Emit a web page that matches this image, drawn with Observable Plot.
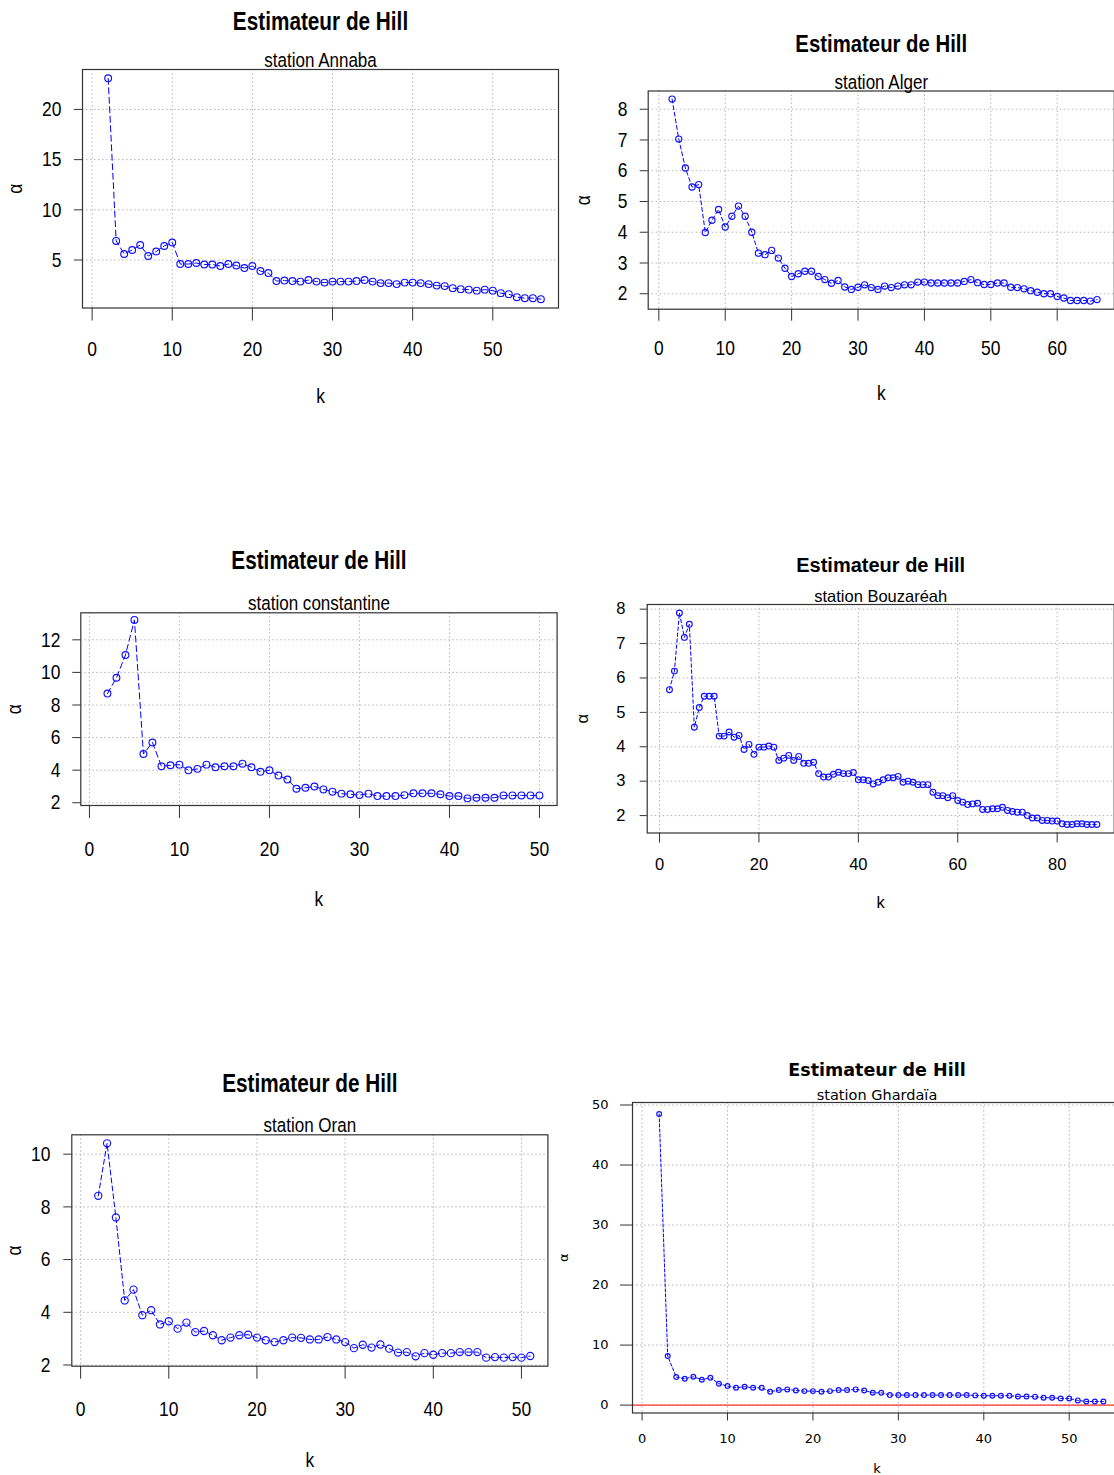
<!DOCTYPE html>
<html><head><meta charset="utf-8">
<script src="https://cdn.jsdelivr.net/npm/d3@7"></script>
<script src="https://cdn.jsdelivr.net/npm/@observablehq/plot@0.6"></script>
<style>
body{margin:0;background:#fff;overflow:hidden}
#root{position:relative;width:1114px;height:1475px;overflow:hidden;background:#fff}
#root svg{position:absolute}
</style></head><body><div id="root"></div>
<script>
// ---- Data: Hill estimator alpha for k = 2, 3, ... ----
const annabaValues = [23.1,6.9,5.6,6.0,6.5,5.4,5.85,6.4,6.75,4.6,4.6,4.7,4.55,4.55,4.4,4.6,4.45,4.2,4.4,3.9,3.7,2.9,2.95,2.9,2.85,3.0,2.85,2.75,2.85,2.85,2.85,2.9,3.0,2.85,2.7,2.7,2.6,2.75,2.75,2.7,2.6,2.45,2.4,2.2,2.1,2.05,1.95,2.05,1.95,1.7,1.6,1.3,1.2,1.2,1.1];
const algerValues = [8.33,7.03,6.09,5.47,5.55,3.99,4.39,4.74,4.17,4.52,4.85,4.52,4.0,3.32,3.27,3.41,3.16,2.83,2.56,2.65,2.73,2.73,2.56,2.46,2.34,2.43,2.22,2.14,2.21,2.29,2.2,2.14,2.25,2.2,2.25,2.29,2.29,2.38,2.38,2.35,2.35,2.35,2.35,2.35,2.4,2.46,2.36,2.3,2.3,2.35,2.35,2.21,2.2,2.16,2.1,2.05,2.0,2.0,1.91,1.86,1.78,1.78,1.78,1.76,1.81];
const constantineValues = [8.70,9.67,11.07,13.22,4.99,5.70,4.24,4.3,4.34,3.99,4.08,4.34,4.18,4.24,4.24,4.4,4.18,3.9,3.99,3.67,3.43,2.86,2.92,3.0,2.82,2.68,2.56,2.52,2.47,2.56,2.41,2.41,2.41,2.47,2.58,2.58,2.58,2.52,2.41,2.41,2.27,2.31,2.31,2.31,2.45,2.45,2.45,2.45,2.45];
const bouzareahValues = [5.66,6.20,7.89,7.18,7.56,4.57,5.14,5.47,5.47,5.47,4.31,4.31,4.43,4.28,4.33,3.92,4.07,3.78,3.99,3.99,4.02,3.99,3.60,3.67,3.75,3.60,3.72,3.52,3.52,3.55,3.22,3.12,3.12,3.2,3.26,3.22,3.22,3.25,3.04,3.04,3.02,2.92,2.97,3.04,3.1,3.1,3.14,2.97,3.0,2.97,2.9,2.9,2.9,2.68,2.58,2.58,2.52,2.58,2.44,2.39,2.32,2.34,2.36,2.18,2.18,2.2,2.2,2.24,2.15,2.12,2.1,2.1,2.0,1.93,1.93,1.86,1.86,1.84,1.84,1.76,1.74,1.74,1.76,1.76,1.74,1.74,1.74];
const oranValues = [8.42,10.41,7.6,4.45,4.86,3.89,4.08,3.54,3.66,3.38,3.61,3.25,3.29,3.13,2.94,3.04,3.13,3.15,3.04,2.94,2.87,2.94,3.04,3.03,2.97,2.97,3.06,2.97,2.87,2.64,2.77,2.66,2.78,2.62,2.47,2.49,2.33,2.45,2.39,2.45,2.45,2.49,2.49,2.49,2.28,2.3,2.28,2.3,2.28,2.34];
const ghardaiaValues = [48.5,8.17,4.67,4.39,4.72,4.22,4.56,3.56,3.17,2.89,3.06,2.89,2.89,2.22,2.5,2.61,2.44,2.33,2.33,2.22,2.33,2.5,2.5,2.61,2.44,2.05,2.05,1.67,1.67,1.67,1.67,1.67,1.67,1.67,1.67,1.67,1.67,1.62,1.56,1.56,1.56,1.56,1.44,1.44,1.4,1.22,1.22,1.1,1.1,0.78,0.6,0.6,0.6];

const stationNames = ["station Annaba","station Alger","station constantine","station Bouzaréah","station Oran","station Ghardaïa"];
const titleText = "Estimateur de Hill";
const xLabel = "k";
const yLabel = "α";

const xTicks50 = [0,10,20,30,40,50];
const xTicks60 = [0,10,20,30,40,50,60];
const xTicks80 = [0,20,40,60,80];
const yTicksAnnaba = [5,10,15,20];
const yTicksAlger = [2,3,4,5,6,7,8];
const yTicksConstantine = [2,4,6,8,10,12];
const yTicksBouzareah = [2,3,4,5,6,7,8];
const yTicksOran = [2,4,6,8,10];
const yTicksGhardaia = [0,10,20,30,40,50];

const SANS = "'Liberation Sans',Arial,sans-serif";
const DEJA = "'DejaVu Sans','Liberation Sans',sans-serif";

function rRange(lo, hi){ const e = (hi - lo) * 0.04; return [lo - e, hi + e]; }

const panels = [
  {values: annabaValues, name: stationNames[0], xTicks: xTicks50, yTicks: yTicksAnnaba,
   left: 0, top: 0, width: 565, height: 420, mL: 82, mT: 69, mR: 7, mB: 112.5,
   titleDy: -48, subDy: -9, kDy: 88.5, aDx: -67,
   xTS: 13, xPad: 20, yTS: 8, yPad: 13, squeeze: 0.83,
   font: SANS, titleFont: SANS, tickFont: 21, titleSize: 25, subSize: 20.5, labelSize: 21,
   dash: "6,3.5", r: 3.4},
  {values: algerValues, name: stationNames[1], xTicks: xTicks60, yTicks: yTicksAlger,
   left: 565, top: 0, width: 560, height: 420, mL: 82.7, mT: 90.5, mR: 11.2, mB: 111.3,
   titleDy: -46.5, subDy: -8.5, kDy: 84.3, aDx: -64.7,
   xTS: 12, xPad: 18.8, yTS: 8, yPad: 12.7, squeeze: 0.83,
   font: SANS, titleFont: SANS, tickFont: 21, titleSize: 24.5, subSize: 20.5, labelSize: 21,
   dash: "4,2.7", r: 3.1},
  {values: constantineValues, name: stationNames[2], xTicks: xTicks50, yTicks: yTicksConstantine,
   left: 0, top: 520, width: 565, height: 400, mL: 80.3, mT: 92.3, mR: 8.4, mB: 115,
   titleDy: -52.3, subDy: -9.3, kDy: 94, aDx: -66.3,
   xTS: 13, xPad: 22.5, yTS: 8, yPad: 12.3, squeeze: 0.83,
   font: SANS, titleFont: SANS, tickFont: 21, titleSize: 25, subSize: 20.5, labelSize: 21,
   dash: "6,3.5", r: 3.4},
  {values: bouzareahValues, name: stationNames[3], xTicks: xTicks80, yTicks: yTicksBouzareah,
   left: 565, top: 520, width: 560, height: 400, mL: 81.7, mT: 84, mR: 11.3, mB: 87.5,
   titleDy: -39, subDy: -8, kDy: 69.5, aDx: -64.7,
   xTS: 10, xPad: 15.5, yTS: 7, yPad: 14.7, squeeze: 1,
   font: SANS, titleFont: SANS, tickFont: 16.5, titleSize: 20, subSize: 16.5, labelSize: 16.5,
   dash: "3.5,2.5", r: 2.9},
  {values: oranValues, name: stationNames[4], xTicks: xTicks50, yTicks: yTicksOran,
   left: 0, top: 1040, width: 565, height: 435, mL: 71.3, mT: 94.3, mR: 17.6, mB: 109.3,
   titleDy: -51.3, subDy: -9.3, kDy: 94.3, aDx: -58,
   xTS: 13, xPad: 21.8, yTS: 8, yPad: 13.3, squeeze: 0.83,
   font: SANS, titleFont: SANS, tickFont: 21, titleSize: 25, subSize: 20.5, labelSize: 21,
   dash: "5,3", r: 3.6},
  {values: ghardaiaValues, name: stationNames[5], xTicks: xTicks50, yTicks: yTicksGhardaia,
   left: 565, top: 1040, width: 560, height: 435, mL: 67, mT: 62, mR: 4, mB: 62.5,
   titleDy: -32, subDy: -7, kDy: 55.5, aDx: -69,
   xTS: 8, xPad: 12.8, yTS: 12, yPad: 12, squeeze: 1,
   font: DEJA, titleFont: DEJA, tickFont: 13, titleSize: 17.5, subSize: 14.5, labelSize: 13,
   dash: "3,2", r: 2.4, zeroLine: true}
];

const root = document.getElementById("root");
const gridStyle = {stroke: "#b4b4b4", strokeOpacity: 1, strokeDasharray: "1.5,2.5", strokeWidth: 1};
const centered = {textAnchor: "middle", lineAnchor: "middle", fill: "black"};

for (const p of panels) {
  const data = p.values.map((v, i) => ({k: i + 2, v}));
  const kmax = data[data.length - 1].k;
  const marks = [
    Plot.gridX(p.xTicks, gridStyle),
    Plot.gridY(p.yTicks, gridStyle)
  ];
  if (p.zeroLine) marks.push(Plot.ruleY([0], {stroke: "#ff3030", strokeWidth: 1.2}));
  marks.push(
    Plot.line(data, {x: "k", y: "v", stroke: "#0000ff", strokeWidth: 1, strokeDasharray: p.dash}),
    Plot.dot(data, {x: "k", y: "v", r: p.r, stroke: "#1010ff", strokeWidth: 1.15, fill: "none"}),
    Plot.frame({stroke: "#333", strokeWidth: 1.2}),
    Plot.axisX(p.xTicks, {anchor: "bottom", tickSize: p.xTS, tickPadding: p.xPad, fontSize: p.tickFont, fontFamily: p.font, label: null, stroke: "#333"}),
    Plot.axisY(p.yTicks, {anchor: "left", tickSize: p.yTS, tickPadding: p.yPad, fontSize: p.tickFont, fontFamily: p.font, label: null, stroke: "#333"}),
    Plot.text([titleText], {...centered, text: d => d, frameAnchor: "top", dy: p.titleDy, fontWeight: "bold", fontSize: p.titleSize, fontFamily: p.titleFont}),
    Plot.text([p.name], {...centered, text: d => d, frameAnchor: "top", dy: p.subDy, fontSize: p.subSize, fontFamily: p.font}),
    Plot.text([xLabel], {...centered, text: d => d, frameAnchor: "bottom", dy: p.kDy, fontSize: p.labelSize, fontFamily: p.font}),
    Plot.text([yLabel], {...centered, text: d => d, frameAnchor: "left", dx: p.aDx, rotate: -90, fontSize: p.labelSize, fontFamily: p.font})
  );
  const svg = Plot.plot({
    width: p.width, height: p.height,
    marginLeft: p.mL, marginRight: p.mR, marginTop: p.mT, marginBottom: p.mB,
    x: {domain: rRange(1, kmax)},
    y: {domain: rRange(d3.min(p.values), d3.max(p.values))},
    style: {background: "white", color: "black", fontFamily: p.font, fontSize: p.tickFont + "px", overflow: "visible"},
    marks
  });
  svg.style.position = "absolute";
  svg.style.left = p.left + "px";
  svg.style.top = p.top + "px";
  svg.style.maxWidth = "none";
  root.appendChild(svg);
  // narrow (condensed) lettering like the original R output
  if (p.squeeze !== 1) {
    svg.querySelectorAll("text").forEach(t => {
      const L = t.getComputedTextLength();
      if (L > 0) {
        t.setAttribute("textLength", (L * p.squeeze).toFixed(2));
        t.setAttribute("lengthAdjust", "spacingAndGlyphs");
      }
    });
  }
}
</script></body></html>
